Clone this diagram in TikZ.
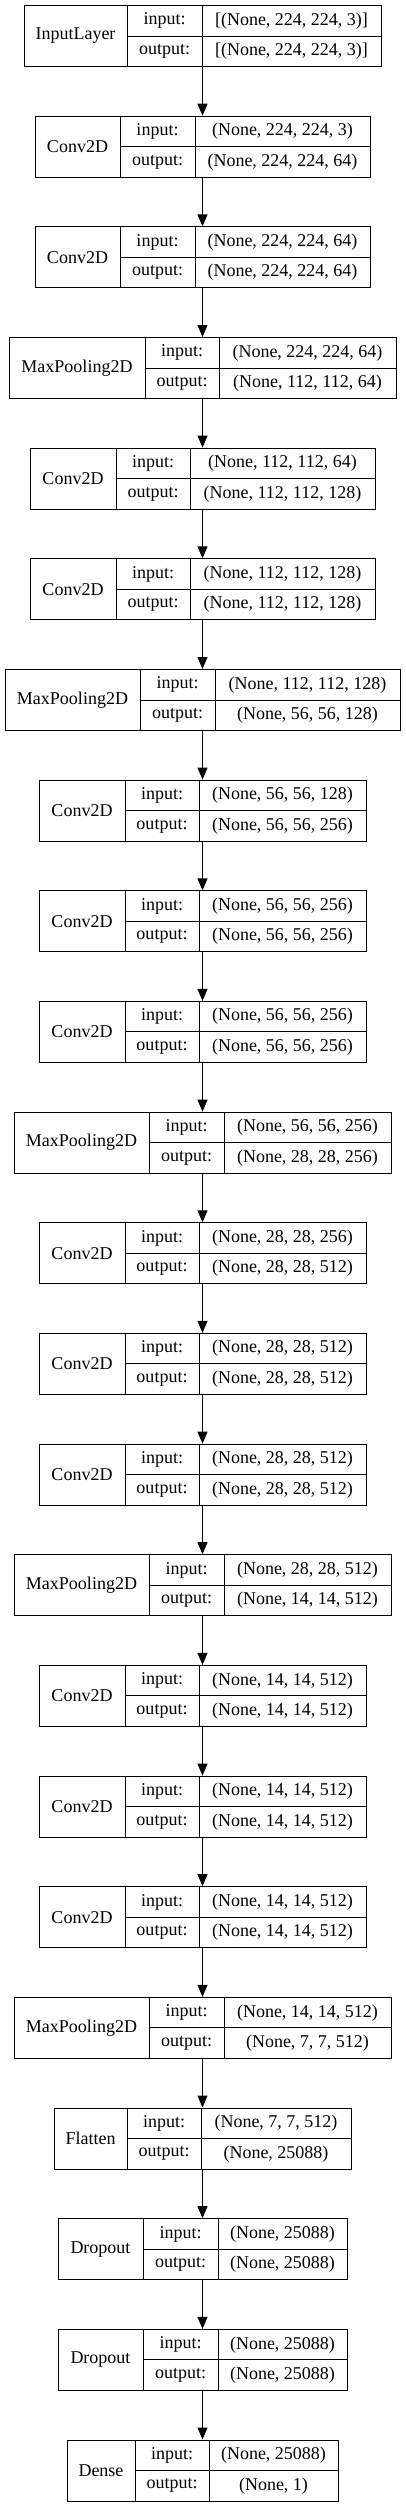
\documentclass[tikz,border=0pt]{standalone}
\usepackage{fontspec}
\setmainfont{Liberation Serif}
\usepackage{tikz}
\usetikzlibrary{arrows.meta,positioning}

% one layer: id, y, left, sep1, sep2, right, name, input, output
\newcommand{\kerasnode}[9]{%
	\node[frame, minimum width={(#6-#3)*1pt}] (#1) at ({(#3+#6)/2}, #2) {};
	\node[cell, minimum width={(#4-#3)*1pt}, minimum height=61pt] (#1-name) at ({(#3+#4)/2}, #2) {#7};
	\node[cell, minimum width={(#5-#4)*1pt}] (#1-inl) at ({(#4+#5)/2}, {#2+15.25}) {input:};
	\node[cell, minimum width={(#6-#5)*1pt}] (#1-inv) at ({(#5+#6)/2}, {#2+15.25}) {#8};
	\node[cell, minimum width={(#5-#4)*1pt}] (#1-outl) at ({(#4+#5)/2}, {#2-15.25}) {output:};
	\node[cell, minimum width={(#6-#5)*1pt}] (#1-outv) at ({(#5+#6)/2}, {#2-15.25}) {#9};
}

\begin{document}
\begin{tikzpicture}[
		x=1pt, y=1pt,
		frame/.style={rectangle, draw, line width=1pt, minimum height=61pt, inner sep=0pt},
		cell/.style={rectangle, draw, line width=1pt, minimum height=30.5pt, inner sep=0pt, font=\fontsize{18}{20}\selectfont},
		flow/.style={line width=1pt, -{Triangle[length=12pt, width=10pt]}}
		]
	
		\useasboundingbox (0,0) rectangle (405,-2508);
	
		% input and block 1
		\kerasnode{L0}{-36}{24}{127}{202}{381}{InputLayer}{[(None, 224, 224, 3)]}{[(None, 224, 224, 3)]}
		\kerasnode{L1}{-146.7}{35}{120}{195}{370}{Conv2D}{(None, 224, 224, 3)}{(None, 224, 224, 64)}
		\kerasnode{L2}{-257.3}{35}{120}{195}{370}{Conv2D}{(None, 224, 224, 64)}{(None, 224, 224, 64)}
		\kerasnode{L3}{-368.0}{9}{145}{219}{396}{MaxPooling2D}{(None, 224, 224, 64)}{(None, 112, 112, 64)}
	
		% block 2
		\kerasnode{L4}{-478.6}{30}{116}{190}{375}{Conv2D}{(None, 112, 112, 64)}{(None, 112, 112, 128)}
		\kerasnode{L5}{-589.3}{30}{116}{190}{375}{Conv2D}{(None, 112, 112, 128)}{(None, 112, 112, 128)}
		\kerasnode{L6}{-700.0}{5}{140}{215}{400}{MaxPooling2D}{(None, 112, 112, 128)}{(None, 56, 56, 128)}
	
		% block 3
		\kerasnode{L7}{-810.6}{39}{125}{199}{366}{Conv2D}{(None, 56, 56, 128)}{(None, 56, 56, 256)}
		\kerasnode{L8}{-921.3}{39}{125}{199}{366}{Conv2D}{(None, 56, 56, 256)}{(None, 56, 56, 256)}
		\kerasnode{L9}{-1031.9}{39}{125}{199}{366}{Conv2D}{(None, 56, 56, 256)}{(None, 56, 56, 256)}
		\kerasnode{L10}{-1142.6}{14}{149}{224}{391}{MaxPooling2D}{(None, 56, 56, 256)}{(None, 28, 28, 256)}
	
		% block 4
		\kerasnode{L11}{-1253.3}{39}{125}{199}{366}{Conv2D}{(None, 28, 28, 256)}{(None, 28, 28, 512)}
		\kerasnode{L12}{-1363.9}{39}{125}{199}{366}{Conv2D}{(None, 28, 28, 512)}{(None, 28, 28, 512)}
		\kerasnode{L13}{-1474.6}{39}{125}{199}{366}{Conv2D}{(None, 28, 28, 512)}{(None, 28, 28, 512)}
		\kerasnode{L14}{-1585.2}{14}{149}{224}{391}{MaxPooling2D}{(None, 28, 28, 512)}{(None, 14, 14, 512)}
	
		% block 5
		\kerasnode{L15}{-1695.9}{39}{125}{199}{366}{Conv2D}{(None, 14, 14, 512)}{(None, 14, 14, 512)}
		\kerasnode{L16}{-1806.6}{39}{125}{199}{366}{Conv2D}{(None, 14, 14, 512)}{(None, 14, 14, 512)}
		\kerasnode{L17}{-1917.2}{39}{125}{199}{366}{Conv2D}{(None, 14, 14, 512)}{(None, 14, 14, 512)}
		\kerasnode{L18}{-2027.9}{14}{149}{224}{391}{MaxPooling2D}{(None, 14, 14, 512)}{(None, 7, 7, 512)}
	
		% head
		\kerasnode{L19}{-2138.5}{54}{127}{201}{351}{Flatten}{(None, 7, 7, 512)}{(None, 25088)}
		\kerasnode{L20}{-2249.2}{58}{143}{218}{347}{Dropout}{(None, 25088)}{(None, 25088)}
		\kerasnode{L21}{-2359.9}{58}{143}{218}{347}{Dropout}{(None, 25088)}{(None, 25088)}
		\kerasnode{L22}{-2470.5}{67}{135}{209}{338}{Dense}{(None, 25088)}{(None, 1)}
	
		\foreach \a/\b in {L0/L1, L1/L2, L2/L3, L3/L4, L4/L5, L5/L6, L6/L7, L7/L8, L8/L9, L9/L10, L10/L11,
			L11/L12, L12/L13, L13/L14, L14/L15, L15/L16, L16/L17, L17/L18, L18/L19, L19/L20, L20/L21, L21/L22}
			\draw[flow] (\a) -- (\b);
	\end{tikzpicture}
\end{document}
